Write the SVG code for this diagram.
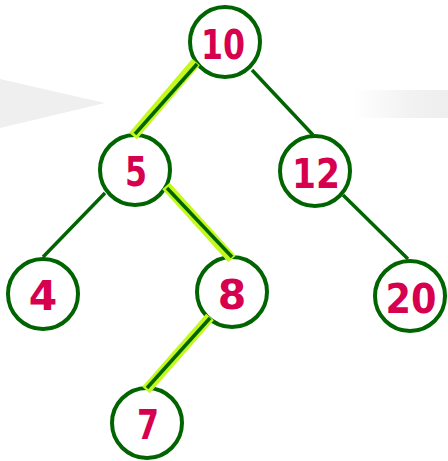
<svg xmlns="http://www.w3.org/2000/svg" width="448" height="461" viewBox="0 0 448 461">
<defs>
<linearGradient id="bgGrad" x1="0" y1="0" x2="1" y2="0">
<stop offset="0" stop-color="#ffffff"/>
<stop offset="0.6" stop-color="#f2f2f2"/>
<stop offset="1" stop-color="#eeeeee"/>
</linearGradient>
<style>
.node circle{fill:#ffffff;stroke:#006400;stroke-width:4}
.node text{font-family:"DejaVu Sans",sans-serif;font-weight:bold;font-size:41px;fill:#d6004f;text-anchor:middle}
.edge{stroke:#006400;stroke-width:3.5;stroke-linecap:butt;fill:none}
.hl{stroke:#c4f81e;stroke-width:10;stroke-linecap:butt;fill:none}
</style>
</defs>
<rect width="448" height="461" fill="#ffffff"/>
<polygon points="0,79 105,103 0,128" fill="#efefef"/>
<rect x="353" y="90" width="95" height="28" fill="url(#bgGrad)"/>
<g id="nodes">
<g id="n10" class="node"><circle cx="225" cy="42" r="35"/><text x="223" y="59" textLength="44" lengthAdjust="spacingAndGlyphs">10</text></g>
<g id="n5" class="node"><circle cx="135" cy="170" r="35"/><text x="136" y="186" textLength="22" lengthAdjust="spacingAndGlyphs">5</text></g>
<g id="n12" class="node"><circle cx="315" cy="171" r="35"/><text x="316" y="188" textLength="48" lengthAdjust="spacingAndGlyphs">12</text></g>
<g id="n4" class="node"><circle cx="43" cy="294" r="35"/><text x="43" y="310">4</text></g>
<g id="n8" class="node"><circle cx="232" cy="292" r="35"/><text x="232" y="309">8</text></g>
<g id="n20" class="node"><circle cx="410" cy="296" r="35"/><text x="411" y="313" textLength="51" lengthAdjust="spacingAndGlyphs">20</text></g>
<g id="n7" class="node"><circle cx="147" cy="423" r="35"/><text x="148" y="439" textLength="22" lengthAdjust="spacingAndGlyphs">7</text></g>
</g>
<g id="connectors">
<line class="hl" x1="196" y1="62" x2="133" y2="136"/>
<line class="hl" x1="166" y1="186" x2="232" y2="259"/>
<line class="hl" x1="210" y1="317" x2="146" y2="390"/>
<line class="edge" x1="197" y1="64" x2="135" y2="134"/>
<line class="edge" x1="252" y1="70" x2="313" y2="135"/>
<line class="edge" x1="105" y1="193" x2="43" y2="257"/>
<line class="edge" x1="167" y1="188" x2="232" y2="257"/>
<line class="edge" x1="343" y1="195" x2="408" y2="259"/>
<line class="edge" x1="210" y1="318" x2="147" y2="388"/>
</g>
</svg>
